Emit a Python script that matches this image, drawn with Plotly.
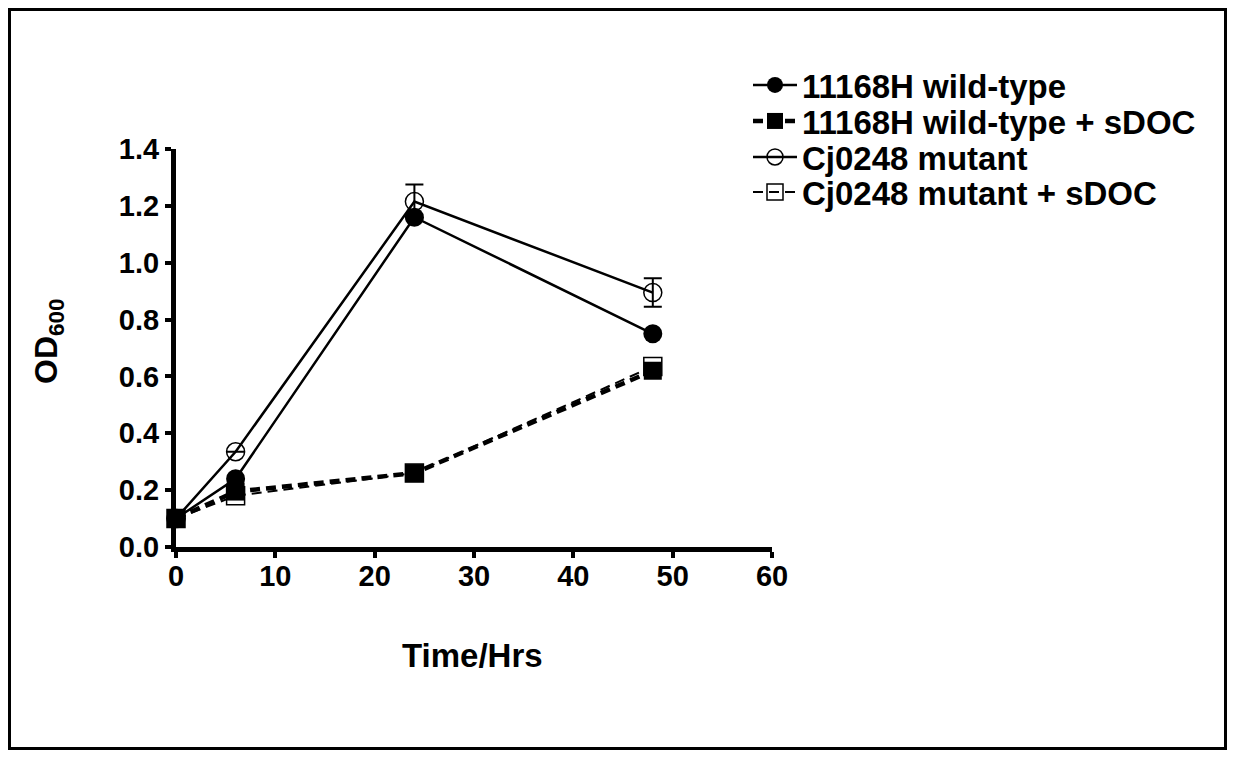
import plotly.graph_objects as go

time_hrs = [0, 6, 24, 48]
wt = [0.10, 0.24, 1.16, 0.75]
wt_sdoc = [0.10, 0.195, 0.26, 0.62]
mut = [0.10, 0.335, 1.215, 0.895]
mut_err = [0.0, 0.0, 0.06, 0.05]
mut_sdoc = [0.10, 0.18, 0.26, 0.635]

names = ["11168H wild-type", "11168H wild-type + sDOC", "Cj0248 mutant", "Cj0248 mutant + sDOC"]
x_ticks = [0, 10, 20, 30, 40, 50, 60]
y_ticks = [0.0, 0.2, 0.4, 0.6, 0.8, 1.0, 1.2, 1.4]

FONT = "Liberation Sans, Arial, sans-serif"

# page body has an 8px margin; figure is placed at (8, 8) and must fit the window
OFF = 8
W, H = 1219, 742
# plot area in page pixels: x 176..772, y 149..547
PL, PR, PT, PB = 176, 772, 149, 547
L, T = PL - OFF, PT - OFF
R = W - (PR - OFF)
B = H - (PB - OFF)
PW, PH = PR - PL, PB - PT

def px_x(p):
    return (p - PL) / PW

def px_y(p):
    return (PB - p) / PH

fig = go.Figure()

# drawing order: open squares, open circles, filled squares, filled circles
fig.add_trace(go.Scatter(
    x=time_hrs, y=mut_sdoc, name=names[3], mode="lines+markers",
    line=dict(color="black", width=2, dash="10px,6px"),
    marker=dict(symbol="square-open", size=18, color="black", line=dict(width=1.5, color="black")),
    cliponaxis=False, legend="legend4",
))
fig.add_trace(go.Scatter(
    x=time_hrs, y=mut, name=names[2], mode="lines+markers",
    line=dict(color="black", width=2.5),
    marker=dict(symbol="circle-open", size=18, color="black", line=dict(width=1.5, color="black")),
    error_y=dict(type="data", array=mut_err, visible=True, color="black", thickness=2, width=9),
    cliponaxis=False, legend="legend3",
))
fig.add_trace(go.Scatter(
    x=time_hrs, y=wt_sdoc, name=names[1], mode="lines+markers",
    line=dict(color="black", width=4.5, dash="10px,6px"),
    marker=dict(symbol="square", size=18, color="black"),
    cliponaxis=False, legend="legend2",
))
fig.add_trace(go.Scatter(
    x=time_hrs, y=wt, name=names[0], mode="lines+markers",
    line=dict(color="black", width=2.5),
    marker=dict(symbol="circle", size=19, color="black"),
    cliponaxis=False, legend="legend",
))

leg_font = dict(family=FONT, size=33, color="black", weight="bold")
leg_x = px_x(748)
row_y = [85, 121, 157, 192]
leg_common = dict(x=leg_x, xanchor="left", yanchor="middle", bgcolor="rgba(0,0,0,0)",
                  font=leg_font, borderwidth=0, itemwidth=44)

fig.update_layout(
    width=W, height=H,
    margin=dict(l=L, r=R, t=T, b=B, autoexpand=False),
    paper_bgcolor="white", plot_bgcolor="white",
    showlegend=True,
    legend=dict(y=px_y(row_y[0]), **leg_common),
    legend2=dict(y=px_y(row_y[1]), **leg_common),
    legend3=dict(y=px_y(row_y[2]), **leg_common),
    legend4=dict(y=px_y(row_y[3]), **leg_common),
    xaxis=dict(
        range=[0, 60], tickvals=x_ticks, ticktext=[str(v) for v in x_ticks],
        showgrid=False, zeroline=False, showline=True, linecolor="black", linewidth=5,
        ticks="outside", ticklen=6, tickwidth=4, tickcolor="black",
        tickfont=dict(family=FONT, size=29, color="black", weight="bold"),
        ticklabelstandoff=-7,
    ),
    yaxis=dict(
        range=[0, 1.4], tickvals=y_ticks, ticktext=[f"{v:.1f}" for v in y_ticks],
        showgrid=False, zeroline=False, showline=True, linecolor="black", linewidth=5,
        ticks="outside", ticklen=6, tickwidth=4, tickcolor="black",
        tickfont=dict(family=FONT, size=29, color="black", weight="bold"),
        ticklabelstandoff=0,
    ),
    annotations=[
        dict(text="Time/Hrs", xref="paper", yref="paper", x=px_x(472), y=px_y(655),
             xanchor="center", yanchor="middle", showarrow=False,
             font=dict(family=FONT, size=33, color="black", weight="bold")),
        dict(text="OD<sub>600</sub>", xref="paper", yref="paper", x=px_x(48), y=px_y(342),
             xanchor="center", yanchor="middle", showarrow=False, textangle=-90,
             font=dict(family=FONT, size=32, color="black", weight="bold")),
    ],
    shapes=[
        dict(type="rect", xref="paper", yref="paper",
             x0=px_x(9.5), x1=px_x(1225.5), y0=px_y(748.5), y1=px_y(9.5),
             line=dict(color="black", width=3), fillcolor="rgba(0,0,0,0)", layer="below"),
    ],
)

fig.write_html("out.html")
